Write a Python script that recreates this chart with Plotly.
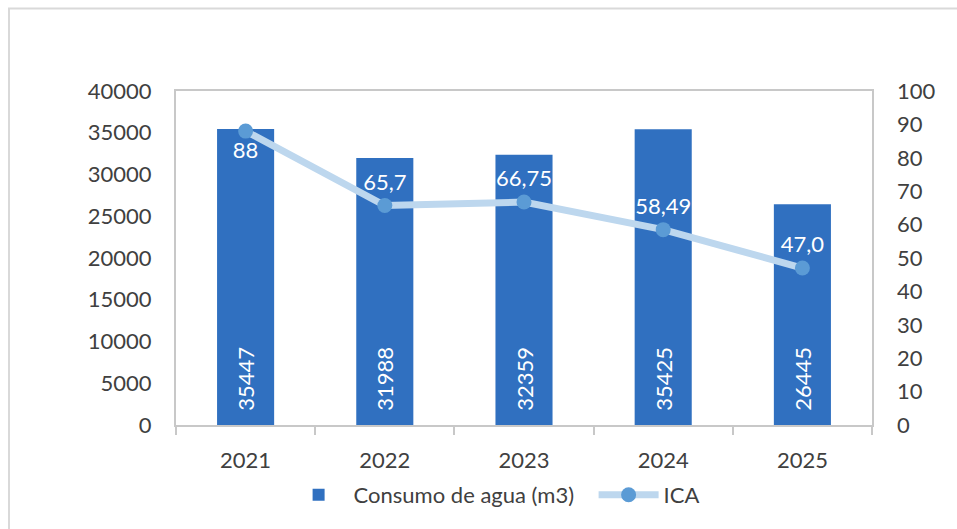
import plotly.graph_objects as go

years = ["2021", "2022", "2023", "2024", "2025"]
consumo = [35447, 31988, 32359, 35425, 26445]
ica = [88, 65.7, 66.75, 58.49, 47.0]
ica_labels = ["88", "65,7", "66,75", "58,49", "47,0"]
ica_label_pos = ["bottom center", "top center", "top center", "top center", "top center"]

FONT = "Lato, 'Open Sans', sans-serif"
GRAY = "#404040"
AXIS = "#C8C8C8"
PAD = "\u00a0\u00a0"

fig = go.Figure()
fig.add_trace(go.Bar(
    x=years, y=consumo, name="Consumo de agua (m3)",
    marker=dict(color="#3070C0", line=dict(width=0)),
    width=0.41,
    text=[PAD + str(v) for v in consumo],
    textposition="inside", insidetextanchor="start", textangle=-90,
    textfont=dict(color="white", size=22, family=FONT),
    cliponaxis=False,
))
fig.add_trace(go.Scatter(
    x=years, y=ica, name="ICA", yaxis="y2",
    mode="lines+markers+text",
    line=dict(color="#BDD7EE", width=7),
    marker=dict(color="#5B9BD5", size=15),
    text=ica_labels, textposition=ica_label_pos,
    textfont=dict(color="white", size=22, family=FONT),
))

fig.update_layout(
    width=957, height=529,
    margin=dict(l=176, r=85, t=91, b=104, autoexpand=False),
    paper_bgcolor="white", plot_bgcolor="white",
    font=dict(family=FONT, size=22, color=GRAY),
    showlegend=True,
    legend=dict(orientation="h", x=0.600, xanchor="center",
                yref="container", y=(529 - 474) / 529, yanchor="top",
                font=dict(size=22, color=GRAY), itemwidth=60,
                entrywidth=235, entrywidthmode="pixels"),
    xaxis=dict(showgrid=False, showline=True, linecolor=AXIS, linewidth=2, mirror=True,
               ticks="outside", tickson="boundaries", ticklen=8, tickcolor=AXIS, tickwidth=2,
               ticklabelstandoff=15),
    yaxis=dict(range=[0, 40000], dtick=5000, showgrid=False, showline=True,
               linecolor=AXIS, linewidth=2, mirror=True, ticks="", zeroline=False,
               ticklabelstandoff=18, tickformat="d"),
    yaxis2=dict(range=[0, 100], dtick=10, overlaying="y", side="right", showgrid=False,
                showline=False, ticks="", zeroline=False, ticklabelstandoff=24),
    bargap=0.59,
    shapes=[dict(type="rect", xref="paper", yref="paper",
                 x0=(9 - 176) / 696, x1=(990 - 176) / 696,
                 y0=(425 - 560) / 334, y1=(425 - 8.5) / 334,
                 line=dict(color="#D9D9D9", width=2), layer="below")],
)

fig.write_html("out.html", config={"displayModeBar": False},
               post_script="document.body.style.margin='0';document.body.style.overflow='hidden';")
